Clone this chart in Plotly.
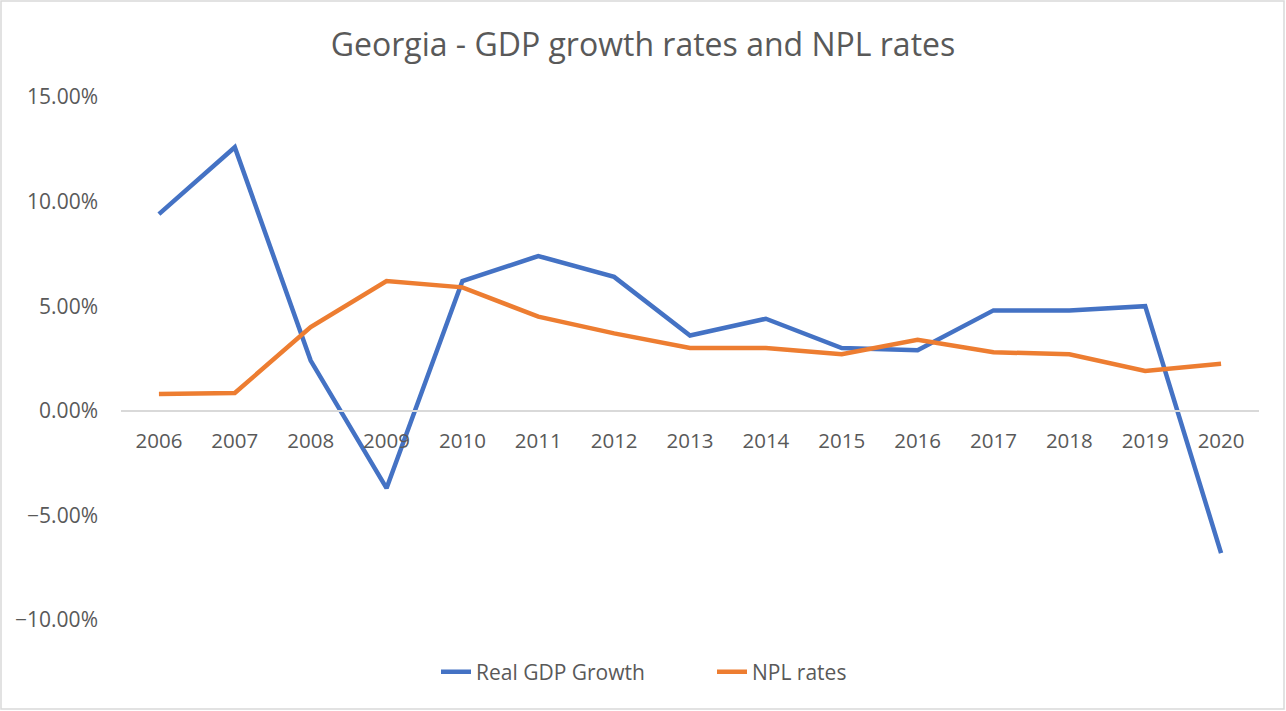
import plotly.graph_objects as go

years = ["2006", "2007", "2008", "2009", "2010", "2011", "2012", "2013",
         "2014", "2015", "2016", "2017", "2018", "2019", "2020"]
gdp_growth = [0.094, 0.126, 0.024, -0.037, 0.062, 0.074, 0.064, 0.036,
              0.044, 0.030, 0.029, 0.048, 0.048, 0.050, -0.068]
npl_rates = [0.008, 0.0085, 0.040, 0.062, 0.059, 0.045, 0.037, 0.030,
             0.030, 0.027, 0.034, 0.028, 0.027, 0.019, 0.0225]
y_ticks = [-0.10, -0.05, 0.0, 0.05, 0.10, 0.15]

fig = go.Figure()
fig.add_trace(go.Scatter(x=years, y=gdp_growth, mode="lines", name="Real GDP Growth",
                         line=dict(color="#4472C4", width=4.5)))
fig.add_trace(go.Scatter(x=years, y=npl_rates, mode="lines", name="NPL rates",
                         line=dict(color="#ED7D31", width=4.5)))

W, H = 1286, 711
L, R, T, B = 121, 27, 97, 91
pw = W - L - R
ph = H - T - B

FONT = "Open Sans, Noto Sans, sans-serif"
GREY = "#595959"

fig.update_layout(
    width=W, height=H,
    margin=dict(l=L, r=R, t=T, b=B, autoexpand=False),
    paper_bgcolor="white", plot_bgcolor="white",
    font=dict(family=FONT, color=GREY, size=21),
    title=dict(text="Georgia - GDP growth rates and NPL rates",
               x=0.5, xref="container", xanchor="center",
               y=1 - 45 / H, yref="container", yanchor="middle",
               font=dict(size=32, color=GREY, family=FONT)),
    showlegend=True,
    legend=dict(orientation="h", x=436 / W, xref="container", xanchor="left",
                y=1 - 672 / H, yref="container", yanchor="middle",
                font=dict(size=21, color=GREY, family=FONT),
                entrywidth=231, entrywidthmode="pixels",
                traceorder="normal"),
    xaxis=dict(type="category", range=[-0.5, 14.5], showgrid=False,
               showline=True, linecolor="#D9D9D9", linewidth=1.5,
               anchor="free", position=0.4, ticks="",
               ticklabelstandoff=12, tickfont=dict(size=20.5, color=GREY)),
    yaxis=dict(range=[-0.10, 0.15], tickvals=y_ticks, tickformat=".2%",
               showgrid=False, zeroline=False, showline=False, ticks="",
               ticklabelstandoff=22, tickfont=dict(size=21, color=GREY)),
)

# outer chart border
fig.add_shape(type="rect", xref="paper", yref="paper",
              x0=(1 - L) / pw, x1=(W - 2 - L) / pw,
              y0=-(B - 2) / ph, y1=(T - 1) / ph + 1,
              line=dict(color="#D9D9D9", width=1.5), fillcolor="rgba(0,0,0,0)",
              layer="below")

fig.write_html("out.html", config={"displayModeBar": False},
               post_script="document.body.style.margin='0px';document.body.style.overflow='hidden';")
